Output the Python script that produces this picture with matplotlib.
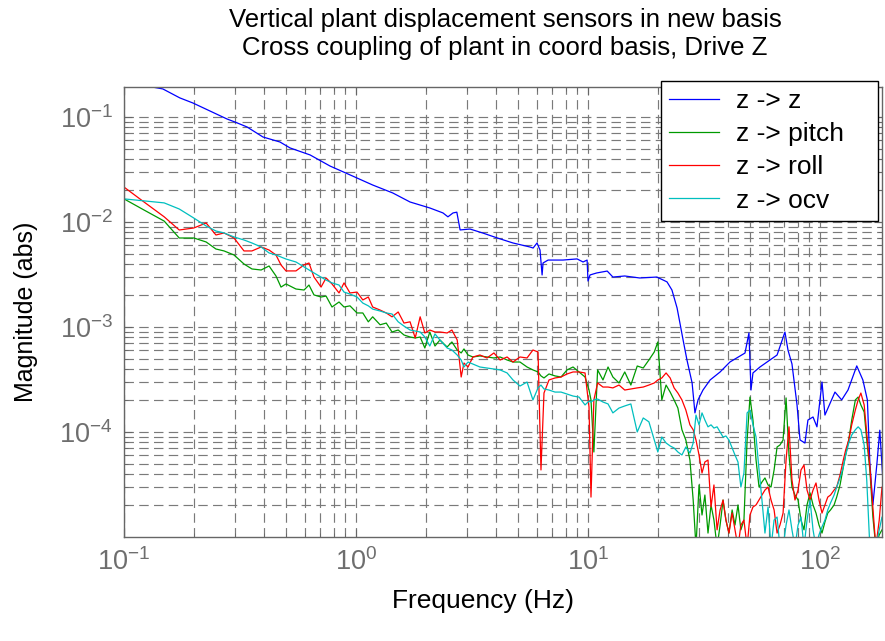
import matplotlib
matplotlib.use("Agg")
import matplotlib.pyplot as plt

plt.rcParams['font.family'] = ['Liberation Sans', 'DejaVu Sans']
plt.rcParams['mathtext.fontset'] = 'custom'
plt.rcParams['mathtext.rm'] = 'Liberation Sans'
plt.rcParams['mathtext.it'] = 'Liberation Sans:italic'
plt.rcParams['mathtext.default'] = 'regular'

# z -> z (own frequency points)
freq_zz = [0.100, 0.1256, 0.147, 0.174, 0.198, 0.278, 0.301, 0.339, 0.397, 0.470,
           0.520, 0.634, 0.773, 0.942, 1.18, 1.44, 1.71, 2.08, 2.37, 2.49,
           2.62, 2.72, 2.81, 3.10, 3.52, 4.06, 4.75, 5.62, 5.80, 6.03,
           6.21, 6.34, 6.40, 6.73, 7.80, 8.97, 9.52, 9.91, 10.0, 10.2,
           10.9, 12.1, 12.8, 14.4, 16.7, 19.8, 21.9, 23.0, 24.2, 24.9,
           25.7, 26.7, 28.1, 28.9, 29.8, 31.3, 33.6, 37.1, 40.9, 47.5,
           49.4, 50.4, 51.4, 55.1, 65.3, 70.6, 72.8, 75.7, 79.6, 82.0,
           86.1, 88.7, 93.3, 97.0, 102, 105, 116, 124, 132, 144,
           153, 160, 164, 169, 176, 181, 189]
mag_zz = [0.235, 0.197, 0.185, 0.152, 0.136, 0.0957, 0.0895, 0.0804, 0.0645, 0.0578,
          0.0507, 0.0435, 0.0341, 0.0281, 0.0225, 0.0189, 0.0155, 0.0136, 0.0122, 0.0112,
          0.0122, 0.0124, 0.0084, 0.00857, 0.00785, 0.00705, 0.00631, 0.00578, 0.00565, 0.00631,
          0.00541, 0.00313, 0.00407, 0.00434, 0.00434, 0.00445, 0.00416, 0.00434, 0.00274, 0.00313,
          0.00327, 0.00341, 0.00299, 0.00306, 0.00293, 0.00299, 0.00269, 0.00225, 0.00152, 0.00109,
          7.5e-4, 4.85e-4, 2.93e-4, 1.52e-4, 2.02e-4, 2.51e-4, 3.13e-4, 3.73e-4, 4.64e-4, 5.65e-4,
          8.77e-4, 2.51e-4, 3.65e-4, 4.16e-4, 5.41e-4, 8.95e-4, 6.0e-4, 4.45e-4, 1.81e-4, 8.4e-5,
          7.85e-5, 1.30e-4, 1.39e-4, 1.12e-4, 2.99e-4, 1.45e-4, 2.40e-4, 2.02e-4, 2.51e-4, 4.26e-4,
          3.13e-4, 2.02e-4, 5.07e-5, 2.02e-5, 5.07e-5, 1.04e-4, 2.25e-5]

# shared frequency points for pitch / roll / ocv
freq = [0.100, 0.122, 0.149, 0.173, 0.200, 0.226, 0.249, 0.270, 0.298, 0.329,
        0.356, 0.390, 0.422, 0.452, 0.475, 0.499, 0.551, 0.597, 0.627, 0.659,
        0.707, 0.743, 0.788, 0.845, 0.888, 0.942, 1.01, 1.07, 1.13, 1.18,
        1.27, 1.35, 1.43, 1.52, 1.61, 1.71, 1.80, 1.89, 1.98, 2.08,
        2.19, 2.30, 2.47, 2.59, 2.73, 2.84, 2.92, 3.04, 3.19, 3.42,
        3.67, 3.93, 4.18, 4.48, 4.75, 5.09, 5.46, 5.79, 6.09, 6.27,
        6.46, 6.79, 7.21, 7.65, 8.12, 8.62, 9.15, 9.71, 10.1, 10.3,
        10.6, 11.0, 11.6, 12.2, 12.8, 13.6, 14.4, 15.3, 16.3, 17.3,
        18.3, 19.3, 20.0, 20.8, 21.7, 22.6, 23.5, 24.4, 25.4, 26.4,
        27.5, 28.4, 29.2, 30.1, 31.0, 31.9, 32.9, 33.9, 34.9, 36.0,
        37.1, 38.2, 39.3, 40.5, 41.8, 43.0, 44.3, 45.6, 47.0, 48.5,
        49.9, 51.4, 53.0, 54.6, 56.2, 57.9, 59.7, 61.5, 63.4, 65.3,
        67.2, 69.3, 71.4, 73.5, 75.7, 78.0, 80.4, 82.8, 85.3, 87.9,
        90.6, 93.3, 96.1, 99.0, 102, 105, 108, 111, 115, 118,
        122, 126, 129, 133, 137, 142, 146, 150, 155, 159,
        164, 169, 174, 180, 185, 191]

mag_pitch = [0.0166, 0.0130, 0.0102, 7.04e-3, 7.04e-3, 6.45e-3, 5.53e-3, 5.30e-3, 4.85e-3, 3.98e-3,
             3.57e-3, 3.49e-3, 3.81e-3, 3.06e-3, 2.40e-3, 2.57e-3, 2.30e-3, 2.25e-3, 2.51e-3, 2.02e-3,
             1.93e-3, 1.97e-3, 1.55e-3, 1.73e-3, 1.55e-3, 1.59e-3, 1.36e-3, 1.36e-3, 1.12e-3, 1.25e-3,
             1.05e-3, 1.09e-3, 8.96e-4, 9.36e-4, 8.39e-4, 8.03e-4, 7.86e-4, 8.03e-4, 6.31e-4, 8.96e-4,
             6.59e-4, 7.52e-4, 6.45e-4, 7.20e-4, 6.04e-4, 5.66e-4, 6.18e-4, 5.41e-4, 5.18e-4, 5.30e-4,
             5.18e-4, 5.07e-4, 5.18e-4, 4.85e-4, 4.64e-4, 4.64e-4, 4.16e-4, 3.90e-4, 3.73e-4, 3.42e-4,
             3.27e-4, 3.57e-4, 3.42e-4, 3.34e-4, 3.90e-4, 4.16e-4, 3.73e-4, 3.34e-4, 2.51e-4, 2.02e-4,
             6.45e-5, 3.90e-4, 3.13e-4, 4.16e-4, 3.34e-4, 2.93e-4, 3.73e-4, 2.80e-4, 4.25e-4, 4.07e-4,
             4.85e-4, 5.78e-4, 7.20e-4, 2.02e-4, 2.80e-4, 2.40e-4, 2.02e-4, 1.69e-4, 1.05e-4, 8.39e-5,
             5.41e-5, 2.25e-5, 8e-6, 3.13e-5, 1.62e-5, 2.51e-5, 1.09e-5, 2.02e-5, 1.45e-5, 8e-6,
             1.30e-5, 2.25e-5, 1.45e-5, 1.09e-5, 1.81e-5, 1.30e-5, 2.02e-5, 1.17e-5, 1.45e-5, 8.39e-5,
             2.15e-4, 1.30e-4, 5.41e-5, 2.99e-5, 3.34e-5, 3.65e-5, 3.13e-5, 2.99e-5, 4.35e-5, 7.20e-5,
             7.52e-5, 8.39e-5, 2.11e-4, 6.04e-5, 2.99e-5, 2.51e-5, 2.25e-5, 1.45e-5, 1.17e-5, 2.02e-5,
             2.63e-5, 2.02e-5, 1.69e-5, 1.30e-5, 1.09e-5, 1.39e-5, 1.69e-5, 1.81e-5, 2.02e-5, 2.40e-5,
             3.13e-5, 4.64e-5, 6.04e-5, 8.39e-5, 1.30e-4, 2.02e-4, 2.15e-4, 1.81e-4, 1.55e-4, 8.39e-5,
             4.35e-5, 1.55e-5, 8e-6, 1.05e-5, 1.17e-5, 1.30e-5]

mag_roll = [0.0215, 0.0155, 0.0112, 8.39e-3, 8.77e-3, 9.78e-3, 7.52e-3, 7.86e-3, 7.04e-3, 5.30e-3,
            5.30e-3, 5.78e-3, 5.41e-3, 4.85e-3, 3.90e-3, 3.42e-3, 3.42e-3, 3.90e-3, 4.07e-3, 2.99e-3,
            2.40e-3, 2.93e-3, 2.57e-3, 2.11e-3, 2.63e-3, 2.11e-3, 2.15e-3, 1.81e-3, 1.93e-3, 1.55e-3,
            1.45e-3, 1.36e-3, 1.25e-3, 1.39e-3, 1.09e-3, 1.12e-3, 7.86e-4, 1.25e-3, 8.77e-4, 9.36e-4,
            8.96e-4, 8.96e-4, 8.77e-4, 9.36e-4, 7.52e-4, 3.34e-4, 4.54e-4, 4.16e-4, 5.18e-4, 5.41e-4,
            5.07e-4, 5.66e-4, 4.85e-4, 5.18e-4, 4.64e-4, 5.18e-4, 5.07e-4, 6.04e-4, 5.78e-4, 4.35e-5,
            2.35e-4, 3.13e-4, 3.27e-4, 3.34e-4, 3.57e-4, 3.73e-4, 3.73e-4, 3.65e-4, 1.73e-4, 2.40e-5,
            2.02e-4, 2.93e-4, 2.68e-4, 2.68e-4, 2.63e-4, 2.80e-4, 2.51e-4, 2.57e-4, 2.63e-4, 2.68e-4,
            2.80e-4, 2.93e-4, 3.13e-4, 3.27e-4, 3.65e-4, 3.27e-4, 2.63e-4, 2.35e-4, 2.02e-4, 1.62e-4,
            1.17e-4, 1.05e-4, 8.39e-5, 6.04e-5, 4.07e-5, 5.18e-5, 5.41e-5, 1.93e-5, 3.13e-5, 1.17e-5,
            1.81e-5, 2.25e-5, 1.45e-5, 1.09e-5, 1.69e-5, 1.17e-5, 8e-6, 1.30e-5, 1.45e-5, 8e-6,
            1.62e-5, 1.93e-5, 2.02e-5, 2.25e-5, 2.51e-5, 2.80e-5, 2.99e-5, 2.25e-5, 1.81e-5, 1.09e-5,
            1.30e-5, 1.69e-5, 5.41e-5, 1.12e-4, 3.49e-5, 2.25e-5, 2.80e-5, 4.35e-5, 4.85e-5, 2.80e-5,
            2.25e-5, 2.80e-5, 3.27e-5, 2.25e-5, 1.69e-5, 2.02e-5, 2.40e-5, 2.51e-5, 2.80e-5, 2.99e-5,
            3.90e-5, 5.41e-5, 6.74e-5, 8.39e-5, 1.17e-4, 1.62e-4, 2.02e-4, 2.35e-4, 1.81e-4, 9.78e-5,
            4.64e-5, 1.93e-5, 8e-6, 1.45e-5, 2.99e-5, 2.25e-5]

mag_ocv = [0.0166, 0.0159, 0.0152, 0.0133, 0.0109, 9.16e-3, 8.21e-3, 7.86e-3, 7.20e-3, 6.74e-3,
           6.31e-3, 5.78e-3, 5.07e-3, 4.85e-3, 4.64e-3, 4.44e-3, 4.16e-3, 3.73e-3, 3.49e-3, 3.27e-3,
           2.99e-3, 2.80e-3, 2.63e-3, 2.51e-3, 2.15e-3, 2.06e-3, 1.93e-3, 1.69e-3, 1.59e-3, 1.48e-3,
           1.42e-3, 1.36e-3, 1.33e-3, 1.12e-3, 1.02e-3, 9.36e-4, 9.16e-4, 8.96e-4, 8.03e-4, 6.59e-4,
           8.58e-4, 7.52e-4, 6.31e-4, 6.04e-4, 5.41e-4, 4.85e-4, 4.16e-4, 4.64e-4, 4.44e-4, 4.16e-4,
           4.07e-4, 3.98e-4, 3.90e-4, 3.65e-4, 3.13e-4, 2.74e-4, 2.99e-4, 2.02e-4, 2.63e-4, 2.80e-4,
           2.57e-4, 2.51e-4, 2.40e-4, 2.40e-4, 2.30e-4, 2.20e-4, 2.15e-4, 1.81e-4, 1.97e-4, 1.93e-4,
           2.02e-4, 2.06e-4, 1.93e-4, 1.85e-4, 1.52e-4, 1.69e-4, 1.77e-4, 1.85e-4, 1.00e-4, 1.36e-4,
           1.25e-4, 8.39e-5, 6.45e-5, 8.96e-5, 7.86e-5, 7.36e-5, 7.04e-5, 6.45e-5, 6.04e-5, 7.20e-5,
           6.31e-5, 7.86e-5, 1.45e-4, 1.17e-4, 1.52e-4, 1.30e-4, 1.12e-4, 1.17e-4, 1.09e-4, 1.12e-4,
           1.00e-4, 8.96e-5, 9.16e-5, 8.39e-5, 7.04e-5, 6.04e-5, 5.18e-5, 2.99e-5, 4.07e-5, 1.52e-4,
           1.62e-4, 1.17e-4, 8.96e-5, 4.35e-5, 2.25e-5, 1.09e-5, 1.93e-5, 8e-6, 1.45e-5, 1.55e-5,
           8e-6, 8e-6, 1.30e-5, 1.81e-5, 1.17e-5, 8e-6, 1.30e-5, 1.55e-5, 8e-6, 1.45e-5,
           2.25e-5, 1.17e-5, 8e-6, 1.05e-5, 1.25e-5, 1.45e-5, 1.81e-5, 2.11e-5, 2.51e-5, 2.99e-5,
           3.65e-5, 4.64e-5, 6.04e-5, 7.86e-5, 9.36e-5, 1.05e-4, 1.12e-4, 1.05e-4, 7.52e-5, 3.49e-5,
           8e-6, 8e-6, 8e-6, 1.17e-5, 1.55e-5, 1.45e-5]

labels = ['z -> z', 'z -> pitch', 'z -> roll', 'z -> ocv']
colors = ['#0000ff', '#009a00', '#ff0000', '#00bfbf']

W, H = 885, 641
fig = plt.figure(figsize=(W / 100, H / 100), dpi=100)
ax = fig.add_axes([124 / W, 104 / H, 758 / W, 450 / H])

ax.plot(freq_zz, mag_zz, color=colors[0], lw=0.9, label=labels[0])
ax.plot(freq, mag_pitch, color=colors[1], lw=0.9, label=labels[1])
ax.plot(freq, mag_roll, color=colors[2], lw=0.9, label=labels[2])
ax.plot(freq, mag_ocv, color=colors[3], lw=0.9, label=labels[3])

ax.set_xscale('log')
ax.set_yscale('log')
ax.set_xlim(0.1, 185)
ax.set_ylim(1e-5, 0.193)
ax.set_xticks([0.1, 1, 10, 100])
ax.set_yticks([1e-4, 1e-3, 1e-2, 1e-1])

ax.set_axisbelow(True)
ax.grid(True, which='both', linestyle=(0, (8, 4.5)), color='#7a7a7a', linewidth=0.85)

for s in ax.spines.values():
    s.set_color('#666666')
    s.set_linewidth(1.0)
ax.tick_params(which='both', direction='in', top=True, right=True, color='#666666')
ax.tick_params(which='major', length=6, labelsize=19.5, labelcolor='#6e6e6e', pad=8)
ax.tick_params(which='minor', length=3)

ax.set_xlabel('Frequency (Hz)', fontsize=19)
ax.xaxis.set_label_coords((483 - 124) / 758, -0.115)
ax.set_ylabel('Magnitude (abs)', fontsize=18)
ax.yaxis.set_label_coords(-0.113, 0.5)

fig.text(505 / W, 1 - 20 / H, 'Vertical plant displacement sensors in new basis',
         ha='center', va='center', fontsize=18.5)
fig.text(505 / W, 1 - 48 / H, 'Cross coupling of plant in coord basis, Drive Z',
         ha='center', va='center', fontsize=18.5)

leg = ax.legend(loc='upper left', bbox_to_anchor=(661 / W, (H - 217) / H, 217 / W, 136 / H),
                bbox_transform=fig.transFigure, mode='expand', alignment='center',
                fontsize=19, frameon=True, fancybox=False, edgecolor='black', framealpha=1,
                borderaxespad=0, handlelength=1.9, handletextpad=0.65, labelspacing=0.35,
                borderpad=0.3)
leg.get_frame().set_linewidth(1.0)

fig.savefig('out.png', dpi=100)
